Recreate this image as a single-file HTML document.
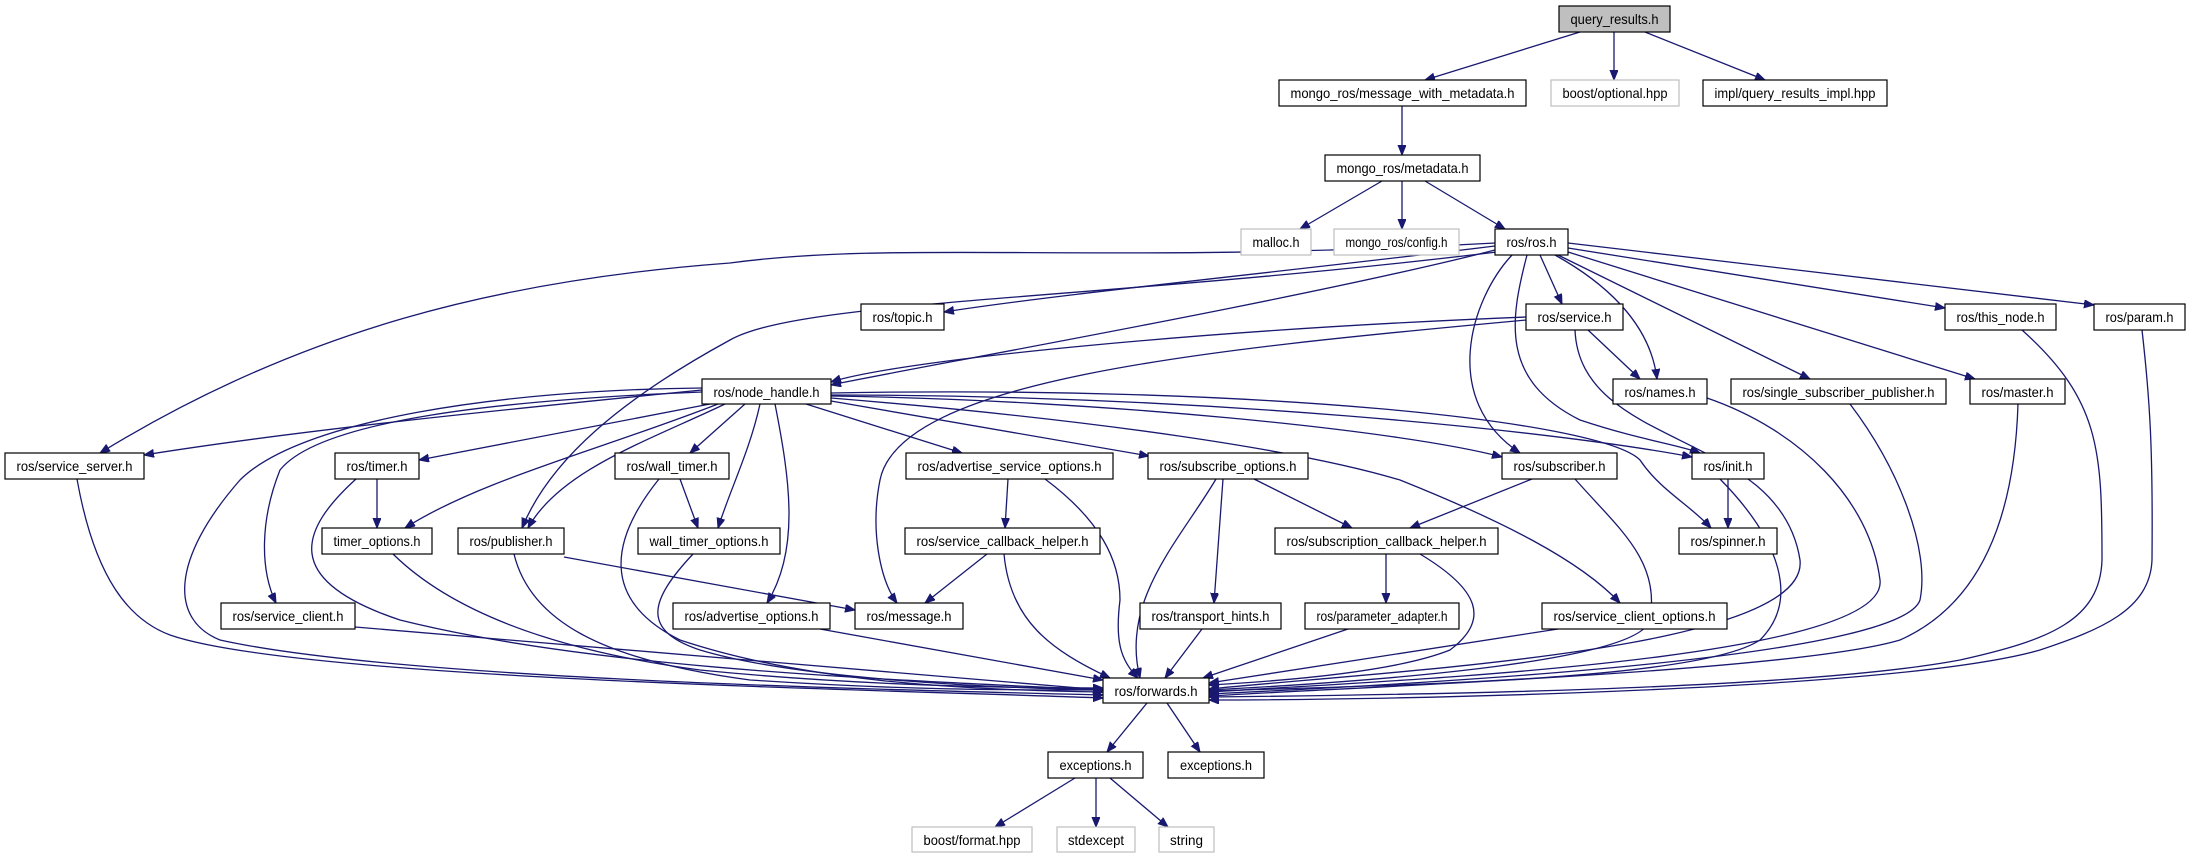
<!DOCTYPE html>
<html><head><meta charset="utf-8"><style>
html,body{margin:0;padding:0;background:#fff;}
svg{display:block;}
text{font-family:"Liberation Sans",sans-serif;font-size:14px;fill:#000;}
.e{fill:none;stroke:#191970;stroke-width:1.3;marker-end:url(#a);}
.n{fill:#fff;stroke:#000;stroke-width:1.2;}
.g{fill:#fff;stroke:#bfbfbf;stroke-width:1.2;}
</style></head><body>
<svg width="2189" height="859" viewBox="0 0 2189 859" xmlns="http://www.w3.org/2000/svg">
<defs><marker id="a" markerUnits="userSpaceOnUse" markerWidth="11" markerHeight="9" refX="10" refY="4" orient="auto"><path d="M0,0 L10,4 L0,8 z" fill="#191970" stroke="#191970"/></marker></defs>
<g>
<path class="e" d="M1580 32 L1425 80"/>
<path class="e" d="M1614 32 L1614 80"/>
<path class="e" d="M1645 32 L1765 80"/>
<path class="e" d="M1402 106 L1402 155"/>
<path class="e" d="M1382 181 L1300 229"/>
<path class="e" d="M1402 181 L1402 229"/>
<path class="e" d="M1425 181 L1505 229"/>
<path class="e" d="M1495 246 C1300 270,1050 295,944 312"/>
<path class="e" d="M1495 250 C1300 300,900 370,831 385"/>
<path class="e" d="M1495 243 C1100 265,900 240,730 263 C500 280,300 330,100 453"/>
<path class="e" d="M1497 252 C1100 300,800 300,730 340 C620 400,550 460,522 528"/>
<path class="e" d="M1540 255 L1562 304"/>
<path class="e" d="M1555 255 C1600 280,1650 320,1657 379"/>
<path class="e" d="M1512 255 C1470 300,1440 400,1520 453"/>
<path class="e" d="M1527 255 C1510 320,1500 380,1580 420 C1640 440,1680 445,1700 453"/>
<path class="e" d="M1558 255 L1810 379"/>
<path class="e" d="M1568 252 L1975 379"/>
<path class="e" d="M1568 248 L1945 308"/>
<path class="e" d="M1568 243 L2094 305"/>
<path class="e" d="M1526 317 C1200 330,900 360,831 382"/>
<path class="e" d="M1588 330 L1640 379"/>
<path class="e" d="M1526 320 C1200 350,900 380,880 480 C870 530,880 580,897 603"/>
<path class="e" d="M1575 330 C1580 450,1780 430,1800 560 C1810 650,1400 670,1209 689"/>
<path class="e" d="M1707 398 C1800 430,1870 500,1880 580 C1890 660,1400 680,1209 692"/>
<path class="e" d="M1850 404 C1900 470,1930 550,1920 600 C1900 660,1400 685,1209 694"/>
<path class="e" d="M2018 404 C2015 500,1990 600,1900 640 C1800 670,1400 685,1209 696"/>
<path class="e" d="M2022 330 C2100 400,2102 450,2102 560 C2100 620,2050 640,1960 660 C1800 690,1400 695,1209 697"/>
<path class="e" d="M2142 330 C2150 400,2153 450,2152 560 C2150 610,2100 630,2040 650 C1900 690,1400 700,1209 700"/>
<path class="e" d="M1575 479 C1620 530,1660 560,1650 620 C1640 660,1400 680,1209 690"/>
<path class="e" d="M1720 479 C1780 540,1800 600,1760 640 C1700 680,1400 685,1209 691"/>
<path class="e" d="M702 390 C500 410,300 430,144 455"/>
<path class="e" d="M710 404 L419 460"/>
<path class="e" d="M745 404 L690 453"/>
<path class="e" d="M718 404 C600 450,480 480,405 528"/>
<path class="e" d="M725 404 C650 440,560 470,528 528"/>
<path class="e" d="M760 404 C750 450,730 490,718 528"/>
<path class="e" d="M680 479 L698 528"/>
<path class="e" d="M775 404 C790 480,800 550,767 603"/>
<path class="e" d="M702 392 C500 400,320 420,280 470 C260 520,260 570,276 603"/>
<path class="e" d="M806 404 L962 453"/>
<path class="e" d="M831 401 L1149 456"/>
<path class="e" d="M831 396 C1100 400,1400 430,1502 457"/>
<path class="e" d="M831 395 C1200 395,1550 430,1692 457"/>
<path class="e" d="M831 393 C1250 385,1600 420,1640 460 C1660 490,1690 505,1711 528"/>
<path class="e" d="M831 398 C1100 420,1300 450,1400 480 C1500 520,1580 560,1620 603"/>
<path class="e" d="M702 388 C500 390,300 420,240 480 C170 560,170 620,220 640 C400 680,900 690,1103 695"/>
<path class="e" d="M77 479 C95 580,130 620,170 635 C300 680,900 690,1103 698"/>
<path class="e" d="M356 479 C300 530,280 580,400 620 C600 670,900 680,1103 690"/>
<path class="e" d="M659 479 C610 540,600 600,680 640 C800 680,950 690,1103 692"/>
<path class="e" d="M693 554 C650 600,640 630,700 650 C800 680,1000 688,1103 690"/>
<path class="e" d="M377 479 L377 528"/>
<path class="e" d="M393 554 C450 610,550 650,700 670 C850 685,1000 688,1103 688"/>
<path class="e" d="M514 554 C530 620,600 660,750 680 C900 690,1000 690,1103 690"/>
<path class="e" d="M564 557 L855 610"/>
<path class="e" d="M355 627 L1103 690"/>
<path class="e" d="M820 629 L1103 680"/>
<path class="e" d="M1008 479 L1005 528"/>
<path class="e" d="M1045 479 C1100 520,1120 560,1120 600 C1115 640,1120 660,1138 678"/>
<path class="e" d="M987 554 L925 603"/>
<path class="e" d="M1004 554 C1010 620,1050 650,1110 678"/>
<path class="e" d="M1223 479 L1214 603"/>
<path class="e" d="M1254 479 L1352 528"/>
<path class="e" d="M1216 479 C1180 540,1120 600,1140 678"/>
<path class="e" d="M1202 629 L1165 678"/>
<path class="e" d="M1386 554 L1386 603"/>
<path class="e" d="M1420 554 C1480 590,1490 620,1450 650 C1400 670,1300 680,1209 685"/>
<path class="e" d="M1348 629 L1203 678"/>
<path class="e" d="M1532 479 L1410 528"/>
<path class="e" d="M1558 629 L1209 683"/>
<path class="e" d="M1728 479 L1728 528"/>
<path class="e" d="M1147 703 L1107 752"/>
<path class="e" d="M1167 703 L1200 752"/>
<path class="e" d="M1075 778 L995 827"/>
<path class="e" d="M1096 778 L1096 827"/>
<path class="e" d="M1110 778 L1168 827"/>
</g>
<g>
<rect x="1559" y="6" width="111" height="26" fill="#bfbfbf" stroke="#000" stroke-width="1.2"/><text x="1614.5" y="24" text-anchor="middle" textLength="88" lengthAdjust="spacingAndGlyphs">query_results.h</text>
<rect class="n" x="1279" y="80" width="247" height="26"/><text x="1402.5" y="98" text-anchor="middle" textLength="224" lengthAdjust="spacingAndGlyphs">mongo_ros/message_with_metadata.h</text>
<rect class="g" x="1551" y="80" width="128" height="26"/><text x="1615" y="98" text-anchor="middle" textLength="105" lengthAdjust="spacingAndGlyphs">boost/optional.hpp</text>
<rect class="n" x="1703" y="80" width="184" height="26"/><text x="1795" y="98" text-anchor="middle" textLength="161" lengthAdjust="spacingAndGlyphs">impl/query_results_impl.hpp</text>
<rect class="n" x="1325" y="155" width="155" height="26"/><text x="1402.5" y="173" text-anchor="middle" textLength="132" lengthAdjust="spacingAndGlyphs">mongo_ros/metadata.h</text>
<rect class="g" x="1241" y="229" width="70" height="26"/><text x="1276" y="247" text-anchor="middle" textLength="47" lengthAdjust="spacingAndGlyphs">malloc.h</text>
<rect class="g" x="1334" y="229" width="125" height="26"/><text x="1396.5" y="247" text-anchor="middle" textLength="102" lengthAdjust="spacingAndGlyphs">mongo_ros/config.h</text>
<rect class="n" x="1495" y="229" width="73" height="26"/><text x="1531.5" y="247" text-anchor="middle" textLength="50" lengthAdjust="spacingAndGlyphs">ros/ros.h</text>
<rect class="n" x="861" y="304" width="83" height="26"/><text x="902.5" y="322" text-anchor="middle" textLength="60" lengthAdjust="spacingAndGlyphs">ros/topic.h</text>
<rect class="n" x="1526" y="304" width="97" height="26"/><text x="1574.5" y="322" text-anchor="middle" textLength="74" lengthAdjust="spacingAndGlyphs">ros/service.h</text>
<rect class="n" x="1945" y="304" width="111" height="26"/><text x="2000.5" y="322" text-anchor="middle" textLength="88" lengthAdjust="spacingAndGlyphs">ros/this_node.h</text>
<rect class="n" x="2094" y="304" width="91" height="26"/><text x="2139.5" y="322" text-anchor="middle" textLength="68" lengthAdjust="spacingAndGlyphs">ros/param.h</text>
<rect class="n" x="702" y="379" width="129" height="25"/><text x="766.5" y="397" text-anchor="middle" textLength="106" lengthAdjust="spacingAndGlyphs">ros/node_handle.h</text>
<rect class="n" x="1613" y="379" width="94" height="25"/><text x="1660" y="397" text-anchor="middle" textLength="71" lengthAdjust="spacingAndGlyphs">ros/names.h</text>
<rect class="n" x="1731" y="379" width="215" height="25"/><text x="1838.5" y="397" text-anchor="middle" textLength="192" lengthAdjust="spacingAndGlyphs">ros/single_subscriber_publisher.h</text>
<rect class="n" x="1970" y="379" width="95" height="25"/><text x="2017.5" y="397" text-anchor="middle" textLength="72" lengthAdjust="spacingAndGlyphs">ros/master.h</text>
<rect class="n" x="5" y="453" width="139" height="26"/><text x="74.5" y="471" text-anchor="middle" textLength="116" lengthAdjust="spacingAndGlyphs">ros/service_server.h</text>
<rect class="n" x="335" y="453" width="84" height="26"/><text x="377" y="471" text-anchor="middle" textLength="61" lengthAdjust="spacingAndGlyphs">ros/timer.h</text>
<rect class="n" x="615" y="453" width="114" height="26"/><text x="672" y="471" text-anchor="middle" textLength="91" lengthAdjust="spacingAndGlyphs">ros/wall_timer.h</text>
<rect class="n" x="906" y="453" width="207" height="26"/><text x="1009.5" y="471" text-anchor="middle" textLength="184" lengthAdjust="spacingAndGlyphs">ros/advertise_service_options.h</text>
<rect class="n" x="1148" y="453" width="160" height="26"/><text x="1228" y="471" text-anchor="middle" textLength="137" lengthAdjust="spacingAndGlyphs">ros/subscribe_options.h</text>
<rect class="n" x="1502" y="453" width="115" height="26"/><text x="1559.5" y="471" text-anchor="middle" textLength="92" lengthAdjust="spacingAndGlyphs">ros/subscriber.h</text>
<rect class="n" x="1692" y="453" width="72" height="26"/><text x="1728" y="471" text-anchor="middle" textLength="49" lengthAdjust="spacingAndGlyphs">ros/init.h</text>
<rect class="n" x="322" y="528" width="110" height="26"/><text x="377" y="546" text-anchor="middle" textLength="87" lengthAdjust="spacingAndGlyphs">timer_options.h</text>
<rect class="n" x="458" y="528" width="106" height="26"/><text x="511" y="546" text-anchor="middle" textLength="83" lengthAdjust="spacingAndGlyphs">ros/publisher.h</text>
<rect class="n" x="638" y="528" width="142" height="26"/><text x="709" y="546" text-anchor="middle" textLength="119" lengthAdjust="spacingAndGlyphs">wall_timer_options.h</text>
<rect class="n" x="905" y="528" width="195" height="26"/><text x="1002.5" y="546" text-anchor="middle" textLength="172" lengthAdjust="spacingAndGlyphs">ros/service_callback_helper.h</text>
<rect class="n" x="1275" y="528" width="223" height="26"/><text x="1386.5" y="546" text-anchor="middle" textLength="200" lengthAdjust="spacingAndGlyphs">ros/subscription_callback_helper.h</text>
<rect class="n" x="1679" y="528" width="98" height="26"/><text x="1728" y="546" text-anchor="middle" textLength="75" lengthAdjust="spacingAndGlyphs">ros/spinner.h</text>
<rect class="n" x="221" y="603" width="134" height="26"/><text x="288" y="621" text-anchor="middle" textLength="111" lengthAdjust="spacingAndGlyphs">ros/service_client.h</text>
<rect class="n" x="673" y="603" width="157" height="26"/><text x="751.5" y="621" text-anchor="middle" textLength="134" lengthAdjust="spacingAndGlyphs">ros/advertise_options.h</text>
<rect class="n" x="855" y="603" width="108" height="26"/><text x="909" y="621" text-anchor="middle" textLength="85" lengthAdjust="spacingAndGlyphs">ros/message.h</text>
<rect class="n" x="1140" y="603" width="141" height="26"/><text x="1210.5" y="621" text-anchor="middle" textLength="118" lengthAdjust="spacingAndGlyphs">ros/transport_hints.h</text>
<rect class="n" x="1305" y="603" width="154" height="26"/><text x="1382" y="621" text-anchor="middle" textLength="131" lengthAdjust="spacingAndGlyphs">ros/parameter_adapter.h</text>
<rect class="n" x="1542" y="603" width="185" height="26"/><text x="1634.5" y="621" text-anchor="middle" textLength="162" lengthAdjust="spacingAndGlyphs">ros/service_client_options.h</text>
<rect class="n" x="1103" y="678" width="106" height="25"/><text x="1156" y="696" text-anchor="middle" textLength="83" lengthAdjust="spacingAndGlyphs">ros/forwards.h</text>
<rect class="n" x="1048" y="752" width="95" height="26"/><text x="1095.5" y="770" text-anchor="middle" textLength="72" lengthAdjust="spacingAndGlyphs">exceptions.h</text>
<rect class="n" x="1168" y="752" width="96" height="26"/><text x="1216" y="770" text-anchor="middle" textLength="72" lengthAdjust="spacingAndGlyphs">exceptions.h</text>
<rect class="g" x="912" y="827" width="120" height="25"/><text x="972" y="845" text-anchor="middle" textLength="97" lengthAdjust="spacingAndGlyphs">boost/format.hpp</text>
<rect class="g" x="1057" y="827" width="78" height="25"/><text x="1096" y="845" text-anchor="middle" textLength="56" lengthAdjust="spacingAndGlyphs">stdexcept</text>
<rect class="g" x="1159" y="827" width="55" height="25"/><text x="1186.5" y="845" text-anchor="middle" textLength="33" lengthAdjust="spacingAndGlyphs">string</text>
</g>
</svg>
</body></html>
